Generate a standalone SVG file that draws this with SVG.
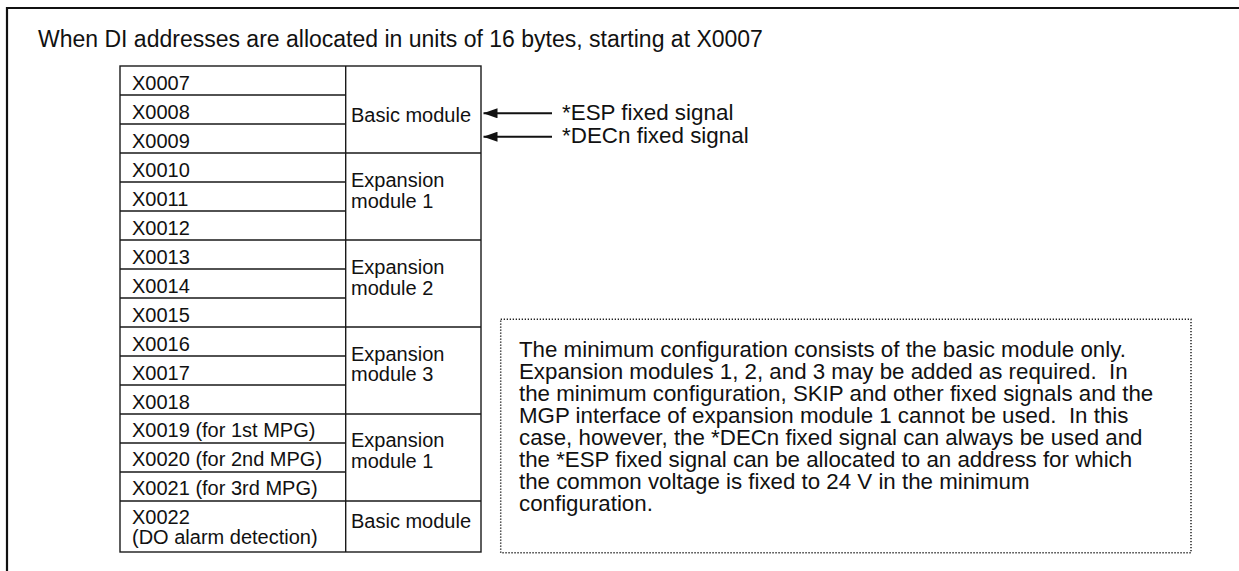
<svg xmlns="http://www.w3.org/2000/svg" width="1239" height="571" viewBox="0 0 1239 571">
<style>
text{font-family:"Liberation Sans",Arial,sans-serif;fill:#111}
.t{font-size:20px}
.s{font-size:22.4px}
.n{font-size:22.3px}
.title{font-size:23px}
.ln{stroke:#1a1a1a;stroke-width:1.4;fill:none}
.frame{stroke:#111;stroke-width:2.2;fill:none}
.dot{stroke:#222;stroke-width:1.5;fill:none;stroke-dasharray:1.3 1.7}
.arr{stroke:#111;stroke-width:2;fill:none;marker-end:url(#ah)}
</style>
<defs>
<marker id="ah" viewBox="0 0 14 10" refX="14" refY="5" markerWidth="14" markerHeight="10" markerUnits="userSpaceOnUse" orient="auto">
<path d="M0,0 L14,5 L0,10 Z" fill="#111"/>
</marker>
</defs>
<rect width="1239" height="571" fill="#fff"/>
<path class="frame" d="M7,571 V8 H1239"/>
<text class="title" x="38" y="47">When DI addresses are allocated in units of 16 bytes, starting at X0007</text>

<g id="table">
<rect class="ln" x="120" y="66" width="361" height="486"/>
<line class="ln" x1="345.7" y1="66" x2="345.7" y2="552"/>
<path class="ln" d="M120,95H345.7M120,124H345.7M120,182H345.7M120,211H345.7M120,269H345.7M120,298H345.7M120,356H345.7M120,385H345.7M120,443H345.7M120,472H345.7"/>
<path class="ln" d="M120,153H481M120,240H481M120,327H481M120,414H481M120,501H481"/>
</g>

<g id="addresses">
<text class="t" x="132" y="89.5">X0007</text>
<text class="t" x="132" y="118.5">X0008</text>
<text class="t" x="132" y="147.5">X0009</text>
<text class="t" x="132" y="176.5">X0010</text>
<text class="t" x="132" y="205.5">X0011</text>
<text class="t" x="132" y="234.5">X0012</text>
<text class="t" x="132" y="263.5">X0013</text>
<text class="t" x="132" y="292.5">X0014</text>
<text class="t" x="132" y="321.5">X0015</text>
<text class="t" x="132" y="350.5">X0016</text>
<text class="t" x="132" y="379.5">X0017</text>
<text class="t" x="132" y="408.5">X0018</text>
<text class="t" x="132" y="436.5">X0019 (for 1st MPG)</text>
<text class="t" x="132" y="465.5">X0020 (for 2nd MPG)</text>
<text class="t" x="132" y="494.5">X0021 (for 3rd MPG)</text>
<text class="t" x="132" y="523.5">X0022</text>
<text class="t" x="132" y="543.5">(DO alarm detection)</text>
</g>

<g id="modules">
<text class="t" x="351" y="121.7">Basic module</text>
<text class="t" x="351" y="186.7">Expansion</text>
<text class="t" x="351" y="207.5">module 1</text>
<text class="t" x="351" y="274">Expansion</text>
<text class="t" x="351" y="294.5">module 2</text>
<text class="t" x="351" y="360.5">Expansion</text>
<text class="t" x="351" y="381">module 3</text>
<text class="t" x="351" y="447">Expansion</text>
<text class="t" x="351" y="467.5">module 1</text>
<text class="t" x="351" y="528.3">Basic module</text>
</g>

<g id="connectors">
<line class="arr" x1="552" y1="113.3" x2="483.5" y2="113.3"/>
<line class="arr" x1="552" y1="136.7" x2="483.5" y2="136.7"/>
</g>

<g id="signals">
<text class="s" x="562" y="119.5">*ESP fixed signal</text>
<text class="s" x="562" y="143">*DECn fixed signal</text>
</g>

<g id="note">
<rect class="dot" x="500.7" y="319.3" width="690.3" height="233.4"/>
<text class="n" x="519" xml:space="preserve"><tspan x="519" y="356.5">The minimum configuration consists of the basic module only.</tspan><tspan x="519" y="378.6">Expansion modules 1, 2, and 3 may be added as required.  In</tspan><tspan x="519" y="400.7">the minimum configuration, SKIP and other fixed signals and the</tspan><tspan x="519" y="422.8">MGP interface of expansion module 1 cannot be used.  In this</tspan><tspan x="519" y="444.9">case, however, the *DECn fixed signal can always be used and</tspan><tspan x="519" y="467">the *ESP fixed signal can be allocated to an address for which</tspan><tspan x="519" y="489.1">the common voltage is fixed to 24 V in the minimum</tspan><tspan x="519" y="511.2">configuration.</tspan></text>
</g>
</svg>
